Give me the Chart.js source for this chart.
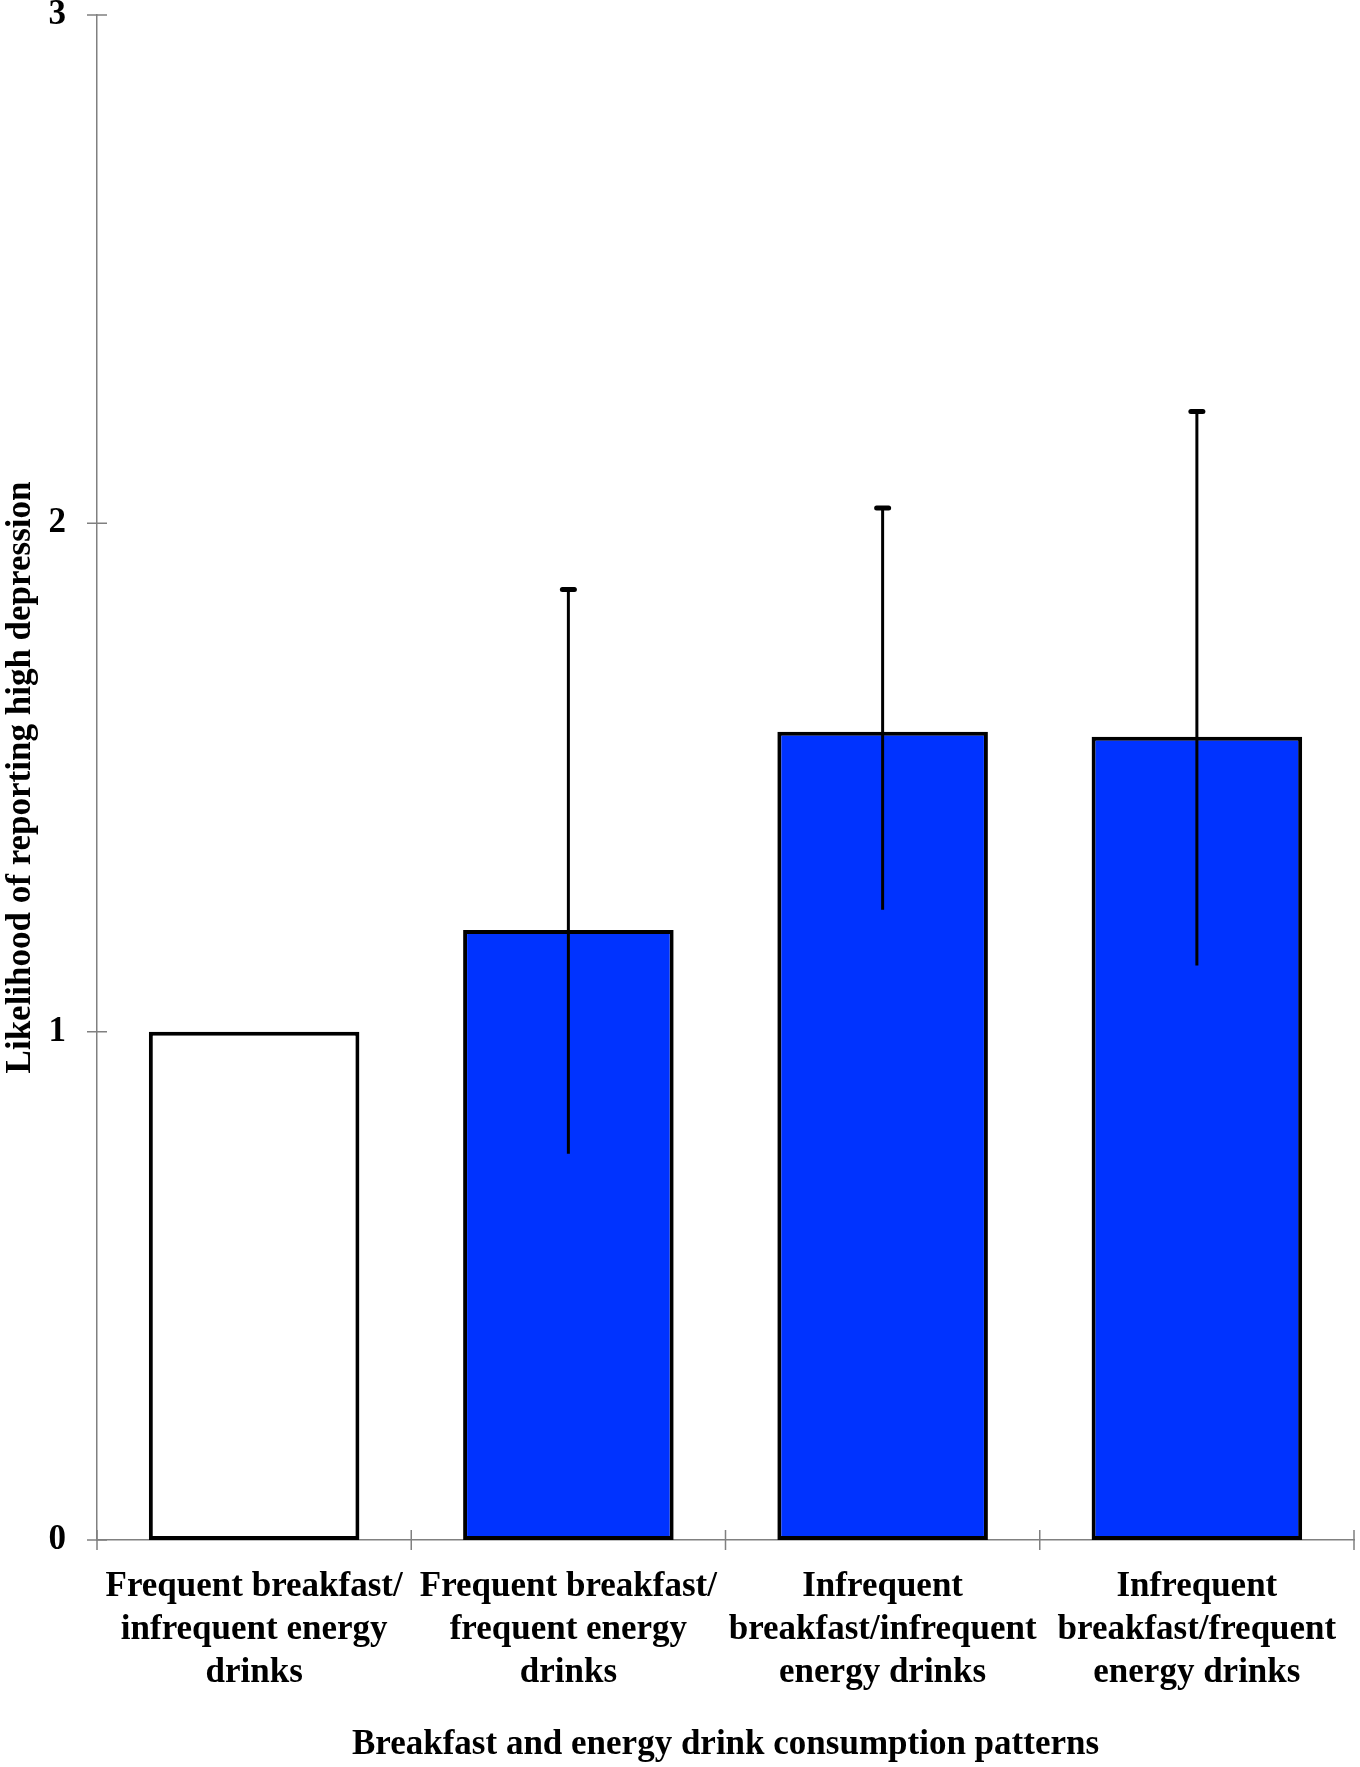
<!DOCTYPE html>
<html>
<head>
<meta charset="utf-8">
<script src="https://cdn.jsdelivr.net/npm/chart.js@4.4.1/dist/chart.umd.min.js"></script>
<style>
    body { margin: 0; background: #fff; }
    #wrap { width: 1360px; height: 1767px; }
</style>
</head>
<body>
<div id="wrap"><canvas id="myChart"></canvas></div>
<script>
// values
var categories = [
    ['Frequent breakfast/', 'infrequent energy', 'drinks'],
    ['Frequent breakfast/', 'frequent energy', 'drinks'],
    ['Infrequent', 'breakfast/infrequent', 'energy drinks'],
    ['Infrequent', 'breakfast/frequent', 'energy drinks']
];
var likelihood = [1.00, 1.20, 1.59, 1.58];
var ciLower = [null, 0.76, 1.24, 1.13];
var ciUpper = [null, 1.87, 2.03, 2.22];
var barColors = ['#ffffff', '#0033ff', '#0033ff', '#0033ff'];
var yTicks = [0, 1, 2, 3];

var serif = "'Times New Roman', 'Liberation Serif', serif";
var axisGray = '#808080';

// error bars: line through the bar, cap only at the upper end
const errorBars = {
    id: 'errorBars',
    afterDatasetsDraw: function (chart) {
        var ctx = chart.ctx;
        var y = chart.scales.y;
        var meta = chart.getDatasetMeta(0);
        ctx.save();
        ctx.strokeStyle = '#000';
        meta.data.forEach(function (bar, i) {
            if (ciLower[i] === null) return;
            var top = y.getPixelForValue(ciUpper[i]);
            var bot = y.getPixelForValue(ciLower[i]);
            ctx.lineWidth = 3;
            ctx.beginPath();
            ctx.moveTo(bar.x, top);
            ctx.lineTo(bar.x, bot);
            ctx.stroke();
            ctx.lineWidth = 5;
            ctx.lineCap = 'round';
            ctx.beginPath();
            ctx.moveTo(bar.x - 6, top);
            ctx.lineTo(bar.x + 6, top);
            ctx.stroke();
            ctx.lineCap = 'butt';
        });
        ctx.restore();
    }
};

// tick marks crossing both axes
const crossTicks = {
    id: 'crossTicks',
    afterDraw: function (chart) {
        var ctx = chart.ctx;
        var x = chart.scales.x;
        var y = chart.scales.y;
        var area = chart.chartArea;
        ctx.save();
        ctx.strokeStyle = axisGray;
        ctx.lineWidth = 1.5;
        ctx.beginPath();
        yTicks.forEach(function (v) {
            var py = y.getPixelForValue(v);
            ctx.moveTo(area.left - 10, py);
            ctx.lineTo(area.left + 10, py);
        });
        var half = (x.getPixelForValue(1) - x.getPixelForValue(0)) / 2;
        for (var i = 0; i <= categories.length; i++) {
            var px = i < categories.length ? x.getPixelForValue(i) - half : x.getPixelForValue(i - 1) + half;
            ctx.moveTo(px, area.bottom - 10);
            ctx.lineTo(px, area.bottom + 10);
        }
        ctx.stroke();
        ctx.restore();
    }
};

new Chart(document.getElementById('myChart'), {
    type: 'bar',
    data: {
        labels: categories,
        datasets: [{
            data: likelihood,
            backgroundColor: barColors,
            borderColor: '#000',
            borderWidth: 4,
            borderSkipped: false,
            categoryPercentage: 1,
            barPercentage: 0.67
        }]
    },
    options: {
        responsive: true,
        maintainAspectRatio: false,
        animation: false,
        layout: { padding: { left: 0, top: 15, right: 6, bottom: 0 } },
        plugins: { legend: { display: false }, tooltip: { enabled: false } },
        scales: {
            x: {
                grid: { display: false, drawTicks: false },
                border: { display: true, color: axisGray, width: 1.5 },
                ticks: {
                    color: '#000', maxRotation: 0, autoSkip: false, padding: 26,
                    font: { family: serif, size: 35, weight: 'bold', lineHeight: 1.22 }
                },
                title: {
                    display: true, text: 'Breakfast and energy drink consumption patterns',
                    color: '#000', padding: { top: 0, bottom: 1 },
                    font: { family: serif, size: 35, weight: 'bold' }
                },
                afterFit: function (s) { s.height = 227; s.paddingLeft = 0; s.paddingRight = 0; }
            },
            y: {
                min: 0, max: 3,
                grid: { display: false, drawTicks: false },
                border: { display: true, color: axisGray, width: 1.5 },
                ticks: {
                    stepSize: 1, color: '#000', padding: 31,
                    font: { family: serif, size: 35, weight: 'bold' }
                },
                title: {
                    display: true, text: 'Likelihood of reporting high depression',
                    color: '#000', padding: { top: 0, bottom: 0 },
                    font: { family: serif, size: 35, weight: 'bold' }
                },
                afterFit: function (s) { s.width = 97; s.paddingTop = 0; s.paddingBottom = 0; }
            }
        }
    },
    plugins: [errorBars, crossTicks]
});
</script>
</body>
</html>
